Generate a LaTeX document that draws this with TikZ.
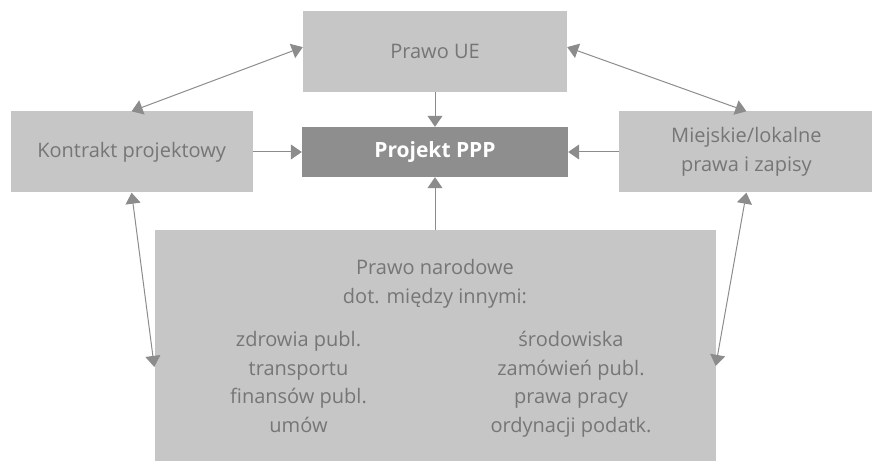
\documentclass[tikz,border=0pt]{standalone}
\usepackage{fontspec}
\setmainfont{Open Sans}
\usetikzlibrary{arrows.meta, positioning}

\definecolor{jasny}{HTML}{C6C6C6}
\definecolor{ciemny}{HTML}{8E8E8E}
\definecolor{tekst}{HTML}{767676}
\definecolor{linia}{HTML}{8C8C8C}

\begin{document}
\begin{tikzpicture}[x=1pt, y=1pt, >={Triangle[length=11pt, width=15pt]},
    pole/.style={fill=jasny, minimum height=81pt, text=tekst, align=center,
                 font=\fontsize{20}{28.5}\selectfont},
    opis/.style={text=tekst, align=center, inner sep=0pt, anchor=north,
                 font=\fontsize{20}{28.5}\selectfont},
    strzalka/.style={->, draw=linia, line width=1pt},
    dwustronna/.style={<->, draw=linia, line width=1pt}]
  \useasboundingbox (0,0) rectangle (872,461);

  \node[fill=ciemny, minimum width=266pt, minimum height=50pt, text=white,
        font=\fontsize{21}{25}\selectfont\bfseries] (ppp) at (435,309) {Projekt PPP};
  \node[pole, minimum width=264pt, above=35pt of ppp] (ue) {Prawo UE};
  \node[pole, minimum width=242pt, left=49pt of ppp] (kontrakt) {Kontrakt projektowy};
  \node[pole, minimum width=254pt, right=51pt of ppp] (miejskie) {Miejskie/lokalne\\prawa i zapisy};
  \node[pole, minimum width=561pt, minimum height=231pt, below=53pt of ppp] (narod) {};

  % tekst w dolnym polu
  \node[opis] (naglowek) at ([yshift=-29pt]narod.north) {Prawo narodowe\\dot. między innymi:};
  \node[opis] (lewa) at ([xshift=-136.5pt, yshift=-101pt]narod.north)
    {zdrowia publ.\\transportu\\finansów publ.\\umów};
  \node[opis] (prawa) at ([xshift=136pt, yshift=-101pt]narod.north)
    {środowiska\\zamówień publ.\\prawa pracy\\ordynacji podatk.};

  % strzalki do projektu
  \draw[strzalka] (ue) -- (ppp);
  \draw[strzalka] (kontrakt) -- (ppp);
  \draw[strzalka] (miejskie) -- (ppp);
  \draw[strzalka] (narod.north) -- (ppp.south);

  % powiazania miedzy zrodlami prawa
  \draw[dwustronna] ([yshift=4pt]ue.west) -- (kontrakt.north);
  \draw[dwustronna] ([yshift=4pt]ue.east) -- (miejskie.north);
  \draw[dwustronna] (kontrakt.south) -- ([yshift=-21pt]narod.west);
  \draw[dwustronna] (miejskie.south) -- ([yshift=-20pt]narod.east);
\end{tikzpicture}
\end{document}
